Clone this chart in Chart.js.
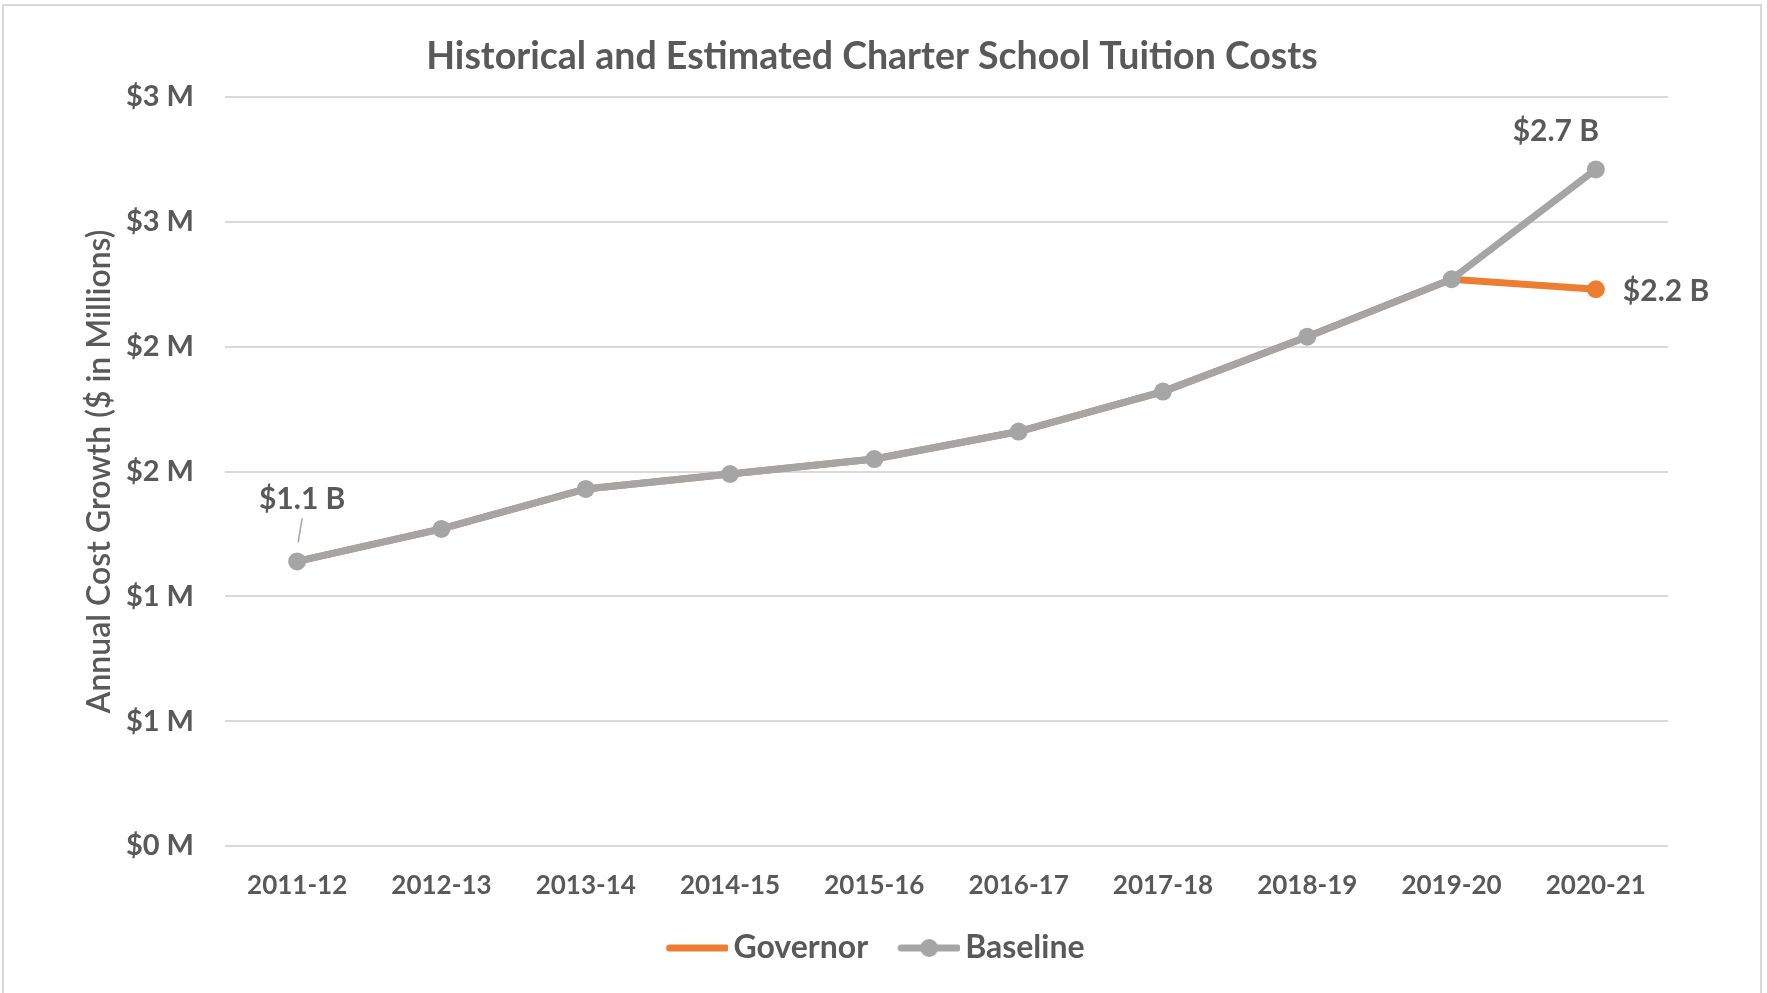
<!DOCTYPE html>
<html>
<head>
<meta charset="utf-8">
<title>Charter School Tuition Costs</title>
<script src="https://cdn.jsdelivr.net/npm/chart.js@4.4.1/dist/chart.umd.min.js"></script>
<style>
  html, body { margin: 0; padding: 0; background: #fff; }
  #wrap { position: relative; width: 1767px; height: 993px; overflow: hidden; }
  #frame { position: absolute; left: 2px; top: 4px; width: 1760px; height: 1000px; border: 2px solid #d9d9d9; box-sizing: border-box; }
  #tuitionChart { position: absolute; left: 0; top: 0; }
</style>
</head>
<body>
<div id="wrap">
  <div id="frame"></div>
  <canvas id="tuitionChart" width="1767" height="993"></canvas>
</div>
<script>
var years = ['2011-12', '2012-13', '2013-14', '2014-15', '2015-16', '2016-17', '2017-18', '2018-19', '2019-20', '2020-21'];
var baseline = [1.14, 1.27, 1.43, 1.49, 1.55, 1.66, 1.82, 2.04, 2.27, 2.71];
var governor = [1.14, 1.27, 1.43, 1.49, 1.55, 1.66, 1.82, 2.04, 2.27, 2.23];
var yTickLabels = ['$0 M', '$1 M', '$1 M', '$2 M', '$2 M', '$3 M', '$3 M'];

var textColor = '#595959';
var grey = '#a5a5a5';
var orange = '#ed7d31';
var fontFamily = 'Lato, "Open Sans", sans-serif';

// value callouts: which point, where the text sits relative to it
var callouts = [
    { ds: 1, idx: 0, dx: 5, dy: -62, align: 'center', leader: true },
    { ds: 1, idx: 9, dx: -40, dy: -38, align: 'center' },
    { ds: 0, idx: 9, dx: 27, dy: 2, align: 'left' }
];

function fmtBillions(v) {
    return '$' + v.toFixed(1) + ' B';
}

// legend swatch: line (+ marker) drawn in the right part of the image,
// so it sits close to its text and away from the previous item
function makeSwatch(color, withDot) {
    var c = document.createElement('canvas');
    c.width = 80;
    c.height = 20;
    var g = c.getContext('2d');
    g.strokeStyle = color;
    g.lineWidth = 7;
    g.lineCap = 'round';
    g.beginPath();
    g.moveTo(21, 10);
    g.lineTo(77, 10);
    g.stroke();
    if (withDot) {
        g.fillStyle = color;
        g.beginPath();
        g.arc(49, 10, 9, 0, Math.PI * 2);
        g.fill();
    }
    return c;
}
var swatches = [makeSwatch(orange, false), makeSwatch(grey, true)];

var calloutPlugin = {
    id: 'callouts',
    afterDatasetsDraw: function (chart) {
        var ctx = chart.ctx;
        ctx.save();
        ctx.font = 'bold 30px ' + fontFamily;
        ctx.fillStyle = textColor;
        ctx.textBaseline = 'middle';
        callouts.forEach(function (c) {
            var pt = chart.getDatasetMeta(c.ds).data[c.idx];
            var value = chart.data.datasets[c.ds].data[c.idx];
            if (c.leader) {
                ctx.strokeStyle = grey;
                ctx.lineWidth = 1.5;
                ctx.beginPath();
                ctx.moveTo(pt.x + 1, pt.y - 19);
                ctx.lineTo(pt.x + 5, pt.y - 43);
                ctx.stroke();
            }
            ctx.textAlign = c.align;
            ctx.fillText(fmtBillions(value), pt.x + c.dx, pt.y + c.dy);
        });
        ctx.restore();
    }
};

var ctx = document.getElementById('tuitionChart').getContext('2d');
var tuitionChart = new Chart(ctx, {
    type: 'line',
    data: {
        labels: years,
        datasets: [{
            label: 'Governor',
            data: governor,
            borderColor: orange,
            backgroundColor: orange,
            borderWidth: 7,
            pointRadius: governor.map(function (v, i) { return i === governor.length - 1 ? 9 : 0; }),
            pointBorderWidth: 0,
            pointHoverRadius: 0,
            tension: 0,
            order: 2
        }, {
            label: 'Baseline',
            data: baseline,
            borderColor: grey,
            backgroundColor: grey,
            borderWidth: 7,
            pointRadius: 9,
            pointBorderWidth: 0,
            pointHoverRadius: 9,
            tension: 0,
            order: 1
        }]
    },
    options: {
        responsive: false,
        animation: false,
        devicePixelRatio: 1,
        layout: {
            padding: { left: 76, right: 99, top: 0, bottom: 19 }
        },
        plugins: {
            tooltip: { enabled: false },
            title: {
                display: true,
                text: 'Historical and Estimated Charter School Tuition Costs',
                color: textColor,
                font: { family: fontFamily, size: 37.5, weight: 'bold' },
                padding: { top: 34, bottom: 18 }
            },
            legend: {
                position: 'bottom',
                labels: {
                    color: textColor,
                    font: { family: fontFamily, size: 32, weight: 'bold' },
                    usePointStyle: true,
                    pointStyleWidth: 58,
                    padding: 23,
                    generateLabels: function (chart) {
                        return chart.data.datasets.map(function (ds, i) {
                            return {
                                text: ds.label,
                                fontColor: textColor,
                                pointStyle: swatches[i],
                                lineWidth: 0,
                                datasetIndex: i
                            };
                        });
                    }
                }
            }
        },
        scales: {
            x: {
                offset: true,
                grid: { display: false, drawTicks: false },
                border: { display: false },
                ticks: {
                    color: textColor,
                    padding: 24,
                    font: { family: fontFamily, size: 26, weight: 'bold' }
                },
                afterFit: function (scale) {
                    scale.height = 63;
                }
            },
            y: {
                min: 0,
                max: 3,
                grid: { color: '#d9d9d9', lineWidth: 2, drawTicks: false },
                border: { display: false },
                ticks: {
                    stepSize: 0.5,
                    color: textColor,
                    padding: 31,
                    font: { family: fontFamily, size: 29, weight: 'bold' },
                    callback: function (value, index) {
                        return yTickLabels[index];
                    }
                },
                title: {
                    display: true,
                    text: 'Annual Cost Growth ($ in Millions)',
                    color: textColor,
                    font: { family: fontFamily, size: 32, weight: '600' },
                    padding: { top: 4, bottom: 4 }
                },
                afterFit: function (scale) {
                    scale.width = 149;
                }
            }
        }
    },
    plugins: [calloutPlugin]
});
</script>
</body>
</html>
